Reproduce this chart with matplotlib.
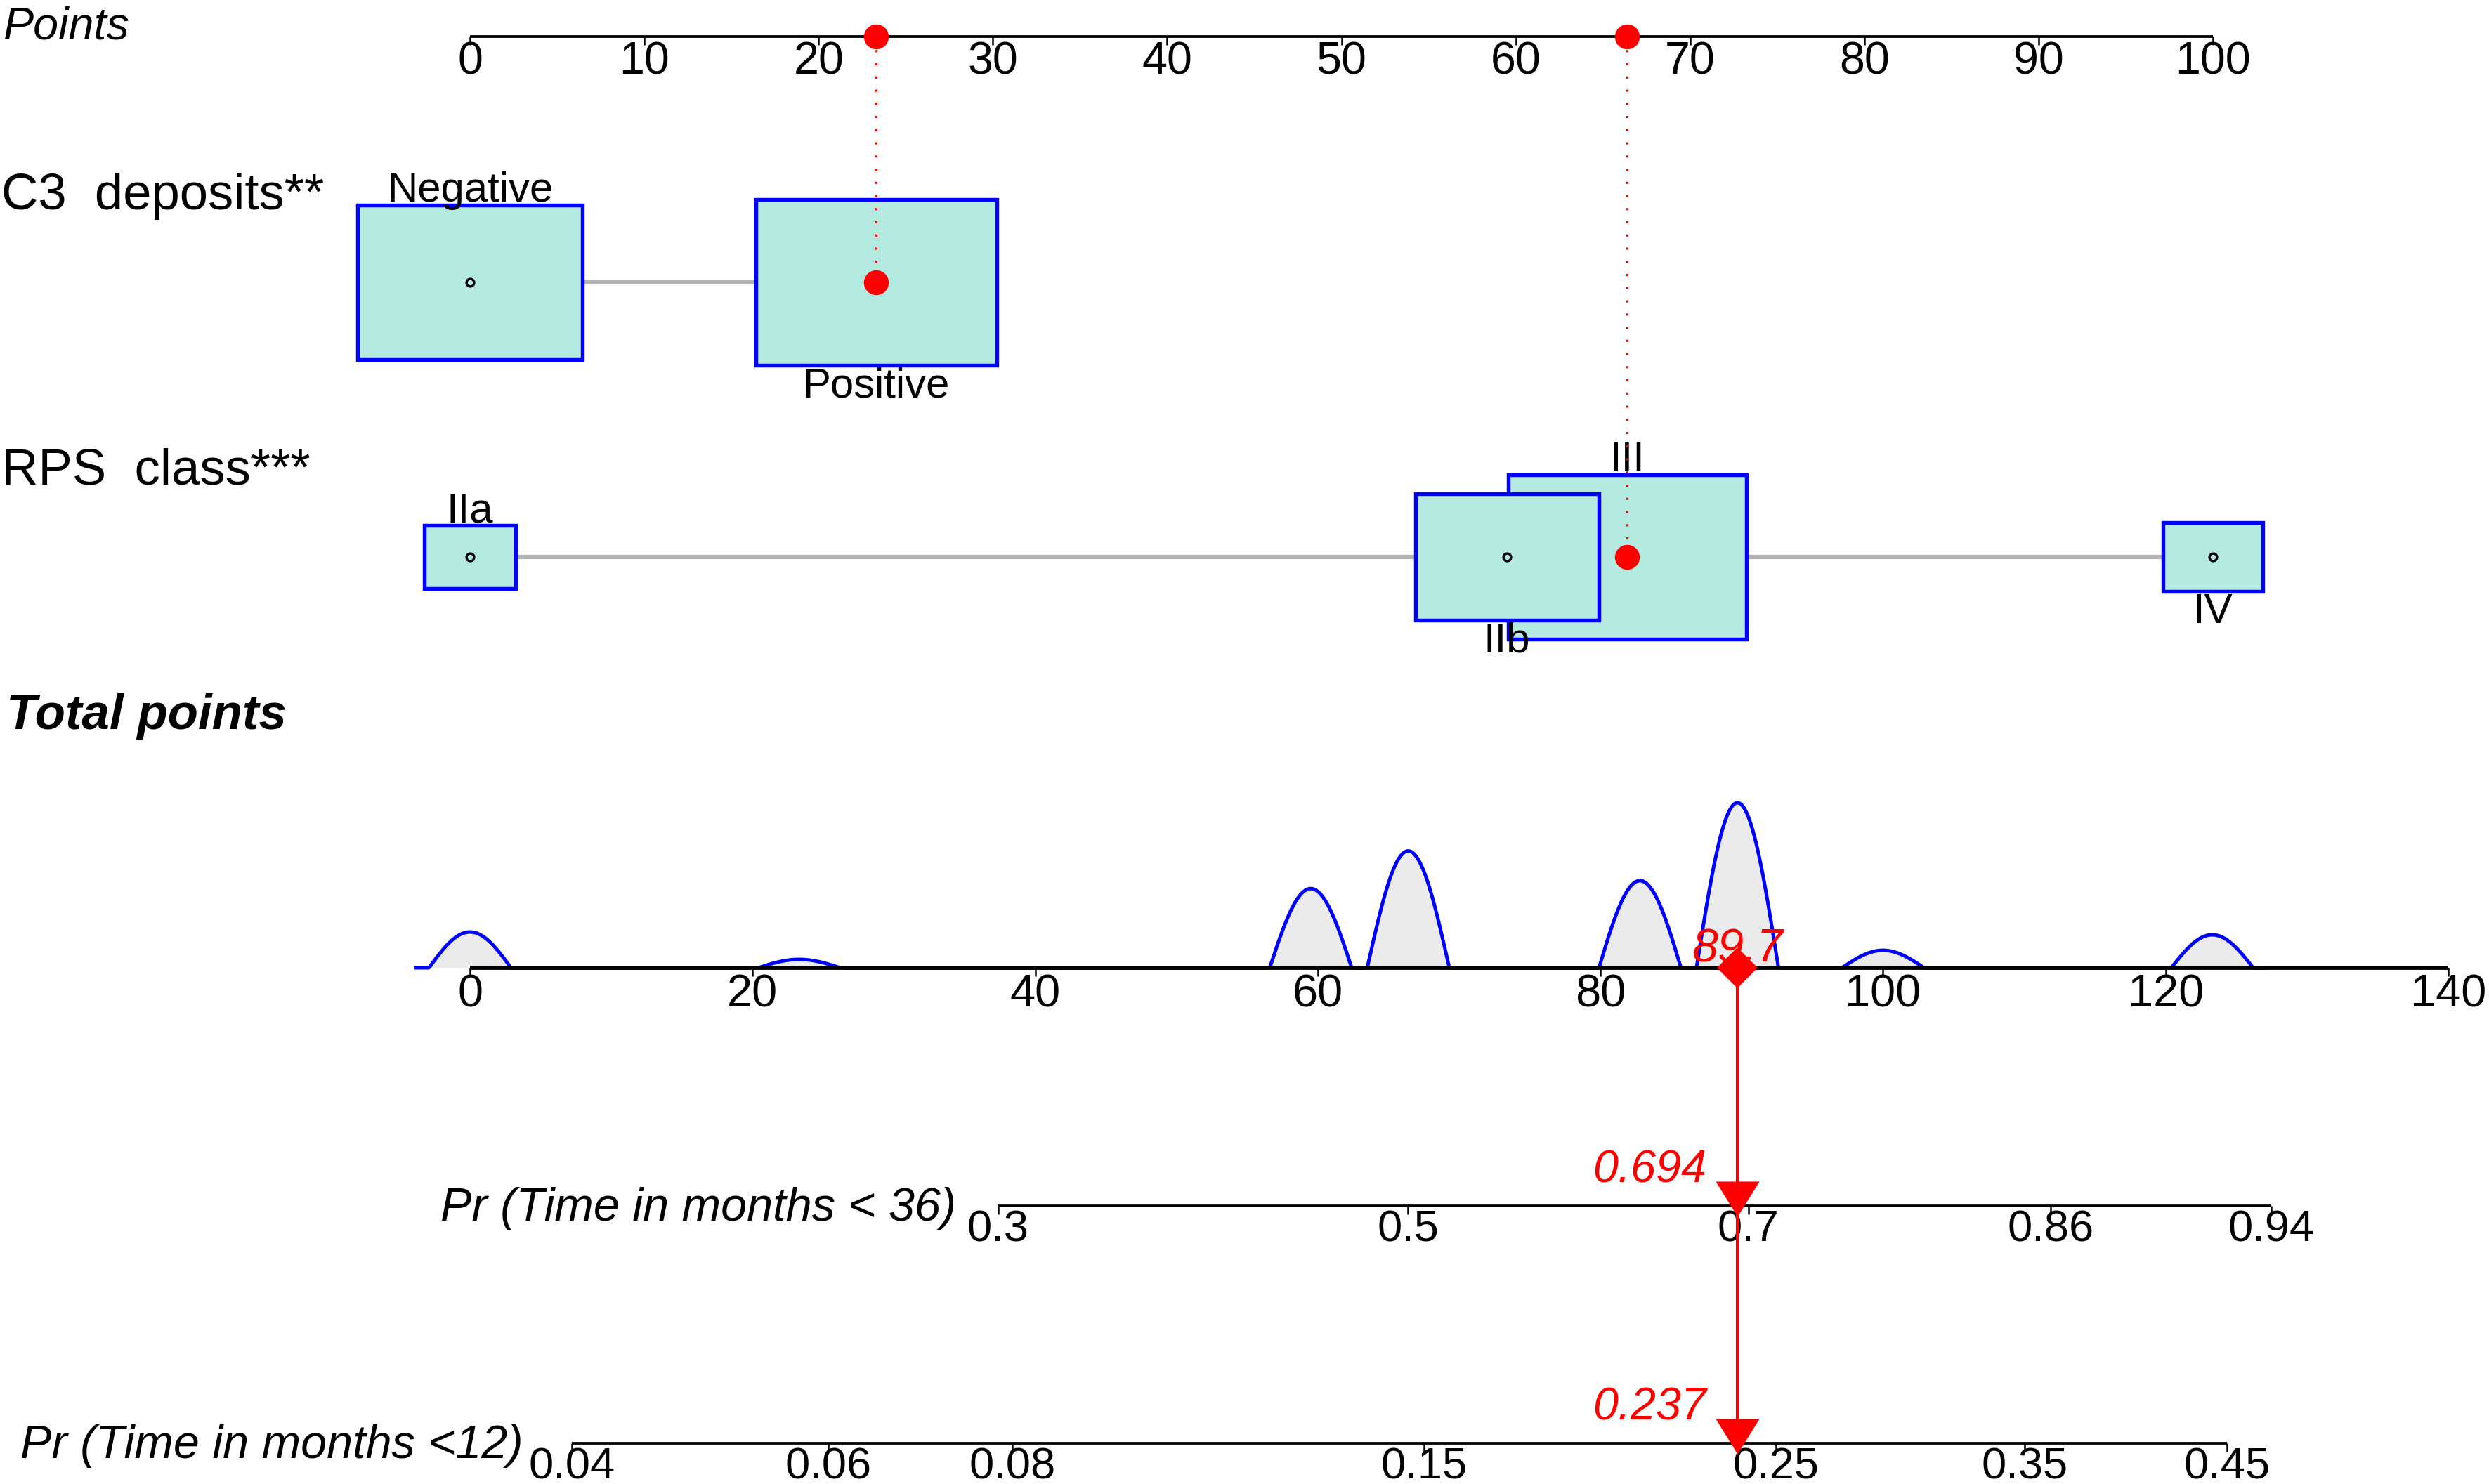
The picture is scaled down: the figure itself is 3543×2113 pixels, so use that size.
import numpy as np
import matplotlib
matplotlib.use("Agg")
import matplotlib.pyplot as plt
from matplotlib.patches import Rectangle

plt.rcParams['font.family'] = ['Liberation Sans', 'DejaVu Sans']

# --- values ---
c3_levels = ["Negative", "Positive"]
c3_points = [0.0, 23.3]
c3_share = [0.465, 0.535]

rps_levels = ["IIa", "IIb", "III", "IV"]
rps_points = [0.0, 59.5, 66.4, 100.0]
rps_share = [0.077, 0.310, 0.522, 0.091]

# relative density height of total points, rows = C3 level, cols = RPS level
combo_density = [[0.217, 0.480, 0.708, 0.106],
                 [0.051, 0.528, 1.000, 0.200]]

points_ticks = [0, 10, 20, 30, 40, 50, 60, 70, 80, 90, 100]
total_ticks = [0, 20, 40, 60, 80, 100, 120, 140]

pr36_ticks = [0.3, 0.5, 0.7, 0.86, 0.94]
pr36_labels = ["0.3", "0.5", "0.7", "0.86", "0.94"]
pr12_ticks = [0.04, 0.06, 0.08, 0.15, 0.25, 0.35, 0.45]
pr12_labels = ["0.04", "0.06", "0.08", "0.15", "0.25", "0.35", "0.45"]

# cox model behind the probability scales
lp_per_point = 0.02292
s0_36 = 0.8595
s0_12 = 0.9660

patient_c3 = "Positive"
patient_rps = "III"


def prob_to_points(p, s0):
    p = np.asarray(p, dtype=float)
    return (np.log(-np.log(1 - p)) - np.log(-np.log(s0))) / lp_per_point


def points_to_prob(tp, s0):
    return 1 - s0 ** np.exp(lp_per_point * tp)


# --- layout (pixels of the 3543 x 2113 canvas) ---
W, H = 3543, 2113
PX_PT = 24.81      # px per point on the Points scale
PX_TP = 20.114     # px per total point
X0 = 669           # x of zero on both scales
Y_POINTS, Y_C3, Y_RPS = 52, 402, 793
Y_TOTAL, Y_PR36, Y_PR12 = 1378, 1717, 2055
BOX_W = 18.9       # box width (points) for a share of 1
BOX_ASPECT = 0.69 * PX_PT
TICK_LEN = 12
KERNEL_HALF = 2.9  # half width of the density humps (total points)

fig = plt.figure(figsize=(W / 300, H / 300), dpi=300)
ax_top = fig.add_axes([0, 0, 1, 1])
ax_bot = fig.add_axes([0, 0, 1, 1])
ax_top.set_xlim(-X0 / PX_PT, (W - X0) / PX_PT)
ax_bot.set_xlim(-X0 / PX_TP, (W - X0) / PX_TP)
for ax in (ax_top, ax_bot):
    ax.set_ylim(H, 0)
    ax.axis('off')
    ax.patch.set_visible(False)


def draw_scale(ax, pos, labels, y, lw=0.9, gap=6, size=15.5):
    ax.plot([pos[0], pos[-1]], [y, y], color='black', lw=lw,
            solid_capstyle='butt', zorder=3)
    ax.vlines(pos, y, y + TICK_LEN, color='black', lw=0.6, zorder=3)
    for x, lab in zip(pos, labels):
        ax.text(x, y + gap, lab, ha='center', va='top', fontsize=size, zorder=4)


def px_x(ax):
    return ax.get_yaxis_transform()


# Points scale
draw_scale(ax_top, points_ticks, [str(t) for t in points_ticks], Y_POINTS)
ax_top.text(4 / W, 55, "Points", transform=px_x(ax_top), style='italic',
            fontsize=15.5, ha='left', va='baseline')


def draw_factor(ax, y, name, name_y, levels, pts, share, chosen):
    ax.plot([min(pts), max(pts)], [y, y], color='#B3B3B3', lw=1.5, zorder=1)
    ax.text(2 / W, name_y, name, transform=px_x(ax), fontsize=17.4,
            ha='left', va='baseline')
    for i, (lev, pt, sh) in enumerate(zip(levels, pts, share)):
        w = BOX_W * np.sqrt(sh)
        h = w * BOX_ASPECT
        ax.add_patch(Rectangle((pt - w / 2, y - h / 2), w, h, facecolor='#B4EAE0',
                               edgecolor='#0000FF', lw=1.3, zorder=2 + (1 - sh)))
        if i % 2 == 0:
            ax.text(pt, y - h / 2 - 5, lev, ha='center', va='baseline',
                    fontsize=14.4, zorder=5)
        else:
            ax.text(pt, y + h / 2 + 2, lev, ha='center', va='top',
                    fontsize=14.4, zorder=5)
        if lev == chosen:
            ax.plot([pt, pt], [Y_POINTS, y], color='red', lw=0.75,
                    linestyle=(0, (1, 5)), zorder=6)
            ax.plot([pt, pt], [Y_POINTS, y], 'o', color='red', ms=8.5,
                    mew=0, zorder=7)
        else:
            ax.plot(pt, y, 'o', ms=2.6, mfc='none', mec='black', mew=0.8, zorder=5)


draw_factor(ax_top, Y_C3, "C3  deposits**", 298, c3_levels, c3_points,
            c3_share, patient_c3)
draw_factor(ax_top, Y_RPS, "RPS  class***", 689, rps_levels, rps_points,
            rps_share, patient_rps)

# Total points density (cosine kernel humps)
centers = np.add.outer(c3_points, rps_points).ravel()
heights = np.asarray(combo_density).ravel()
xg = np.linspace(centers.min() - 3.8, centers.max() + 3.8, 3000)
u = (xg[None, :] - centers[:, None]) / KERNEL_HALF
kern = np.where(np.abs(u) < 1, np.cos(np.pi * u / 2), 0.0)
dens = (heights[:, None] * kern).sum(0)
yd = Y_TOTAL - 235 * dens
ax_bot.fill_between(xg, Y_TOTAL, yd, color='#EBEBEB', lw=0, zorder=1)
ax_bot.plot(xg, yd, color='#0000FF', lw=1.2, zorder=2)

draw_scale(ax_bot, total_ticks, [str(t) for t in total_ticks], Y_TOTAL,
           lw=1.4, gap=9, size=15.6)
ax_bot.text(9 / W, 1038, "Total points", transform=px_x(ax_bot), style='italic',
            fontweight='bold', fontsize=17, ha='left', va='baseline')

# probability scales
pr_rows = [
    (pr36_ticks, pr36_labels, Y_PR36, s0_36, "Pr (Time in months < 36)", 60),
    (pr12_ticks, pr12_labels, Y_PR12, s0_12, "Pr (Time in months <12)", 70),
]
for ticks, labels, y, s0, title, gap in pr_rows:
    pos = prob_to_points(ticks, s0)
    draw_scale(ax_bot, pos, labels, y, gap=5, size=15.2)
    ax_bot.text(pos[0] - gap / PX_TP, y + 21, title, style='italic', fontsize=16,
                ha='right', va='baseline')

# patient prediction
tp = c3_points[c3_levels.index(patient_c3)] + rps_points[rps_levels.index(patient_rps)]
tri = [(-1.24, 1.0), (1.24, 1.0), (0.0, -1.0)]
ax_bot.plot([tp, tp], [Y_TOTAL, Y_PR12 + 10], color='red', lw=1.0, zorder=6)
ax_bot.plot(tp, Y_TOTAL, 'D', color='red', ms=9.7, mew=0, zorder=8)
ax_bot.text(tp, 1370, f"{tp:.1f}", color='red', style='italic', fontsize=16,
            ha='center', va='baseline', zorder=7)
for ticks, labels, y, s0, title, gap in pr_rows:
    p = points_to_prob(tp, s0)
    ax_bot.plot(tp, y - 10, marker=tri, color='red', ms=14.9, mew=0, zorder=8)
    ax_bot.text(tp - 44 / PX_TP, y - 34, f"{p:.3f}", color='red', style='italic',
                fontsize=15.5, ha='right', va='baseline', zorder=8)

fig.savefig("out.png", dpi=300)
